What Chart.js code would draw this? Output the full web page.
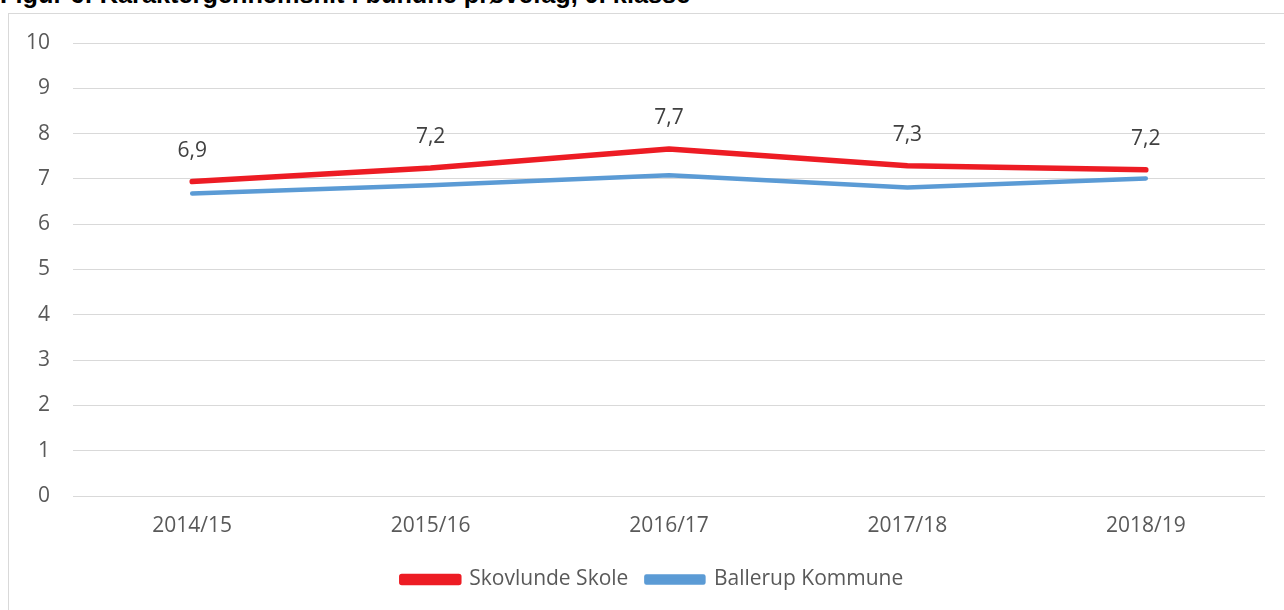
<!DOCTYPE html>
<html>
<head>
<meta charset="utf-8">
<script src="https://cdn.jsdelivr.net/npm/chart.js@4"></script>
<style>
  body { margin: 0; background: #fff; width: 1284px; height: 610px; overflow: hidden; position: relative; }
  #titel { position: absolute; left: 0; top: -18px; font: bold 25.3px "Liberation Sans", Arial, sans-serif; line-height: 25px; white-space: nowrap; color: #000; }
  #ramme { position: absolute; left: 8px; top: 13px; width: 1300px; height: 620px; border: 1px solid #d9d9d9; }
  #wrap { position: absolute; left: 0; top: 0; width: 1284px; height: 610px; }
</style>
</head>
<body>
<div id="titel">Figur 6: Karaktergennemsnit i bundne prøvefag, 9. klasse</div>
<div id="ramme"></div>
<div id="wrap"><canvas id="graf"></canvas></div>
<script>
const aar = ["2014/15", "2015/16", "2016/17", "2017/18", "2018/19"];
const skovlunde = [6.94, 7.24, 7.66, 7.29, 7.2];
const ballerup = [6.68, 6.86, 7.08, 6.81, 7.01];
const yTicks = [0, 1, 2, 3, 4, 5, 6, 7, 8, 9, 10];

const font = '"Open Sans", sans-serif';

// værdier over den røde linje
const etiketter = {
  id: "etiketter",
  afterLayout(chart) {
    // flyt forklaringen lidt til højre og ned
    chart.legend.left += 20;
    chart.legend.right += 20;
    chart.legend.top += 3;
    chart.legend.bottom += 3;
  },
  afterDatasetsDraw(chart) {
    const ctx = chart.ctx;
    const meta = chart.getDatasetMeta(0);
    ctx.save();
    ctx.fillStyle = "#404040";
    ctx.font = "21px " + font;
    ctx.textAlign = "center";
    ctx.textBaseline = "middle";
    meta.data.forEach((p, i) => {
      ctx.fillText(skovlunde[i].toFixed(1).replace(".", ","), p.x, p.y - 31);
    });
    ctx.restore();
  }
};

new Chart(document.getElementById("graf"), {
  type: "line",
  data: {
    labels: aar,
    datasets: [
      { label: "Skovlunde Skole", data: skovlunde, borderColor: "#ED1C24", backgroundColor: "#ED1C24",
        borderWidth: 5.5, pointRadius: 0, borderCapStyle: "round", borderJoinStyle: "round", tension: 0 },
      { label: "Ballerup Kommune", data: ballerup, borderColor: "#5B9BD5", backgroundColor: "#5B9BD5",
        borderWidth: 4.5, pointRadius: 0, borderCapStyle: "round", borderJoinStyle: "round", tension: 0 }
    ]
  },
  options: {
    responsive: true,
    maintainAspectRatio: false,
    animation: false,
    layout: { padding: { left: 0, right: 19, top: 43, bottom: 13 } },
    scales: {
      x: {
        offset: true,
        grid: { display: false },
        border: { display: false },
        ticks: { color: "#595959", font: { family: font, size: 21 }, padding: 9 },
        afterFit: s => { s.height = 52; }
      },
      y: {
        min: 0, max: 10,
        afterBuildTicks: s => { s.ticks = yTicks.map(v => ({ value: v })); },
        grid: { color: "#d9d9d9", lineWidth: 1, drawTicks: false },
        border: { display: false },
        ticks: { color: "#595959", font: { family: font, size: 21 }, padding: 23 },
        afterFit: s => { s.width = 73; }
      }
    },
    plugins: {
      legend: {
        position: "bottom",
        labels: { color: "#595959", font: { family: font, size: 21 }, boxWidth: 57, boxHeight: 6, padding: 18 }
      },
      tooltip: { enabled: false }
    }
  },
  plugins: [etiketter]
});
</script>
</body>
</html>
